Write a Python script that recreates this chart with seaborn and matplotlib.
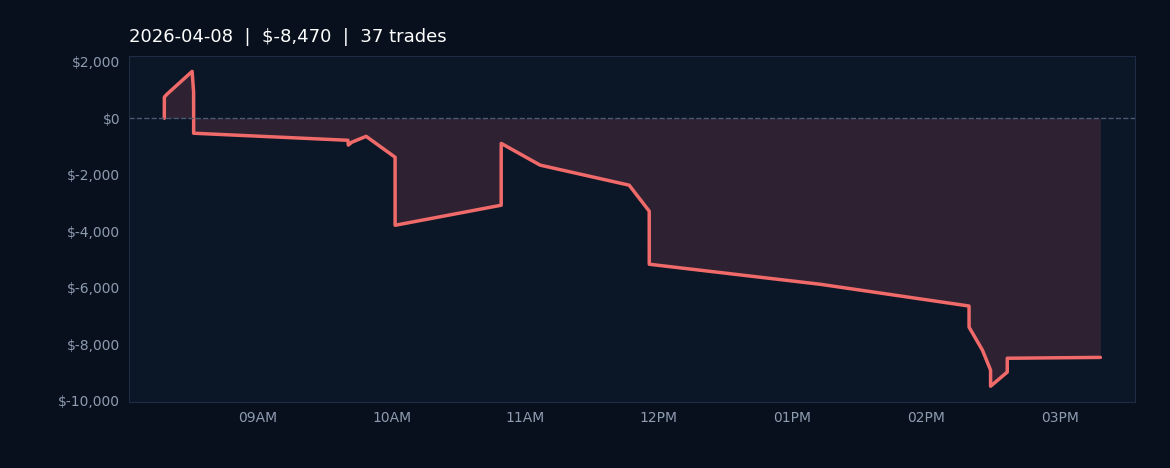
import pandas as pd
import seaborn as sns
import matplotlib
matplotlib.use('Agg')
import matplotlib.pyplot as plt
import matplotlib.dates as mdates
from matplotlib.ticker import FuncFormatter

# ========================================== DATA ==========================================

DAY = '2026-04-08'
times = ['08:17:50', '08:17:51', '08:19:00', '08:30:20', '08:31:00', '08:31:01',
         '09:40:20', '09:40:30', '09:42:00', '09:48:30', '10:01:30', '10:01:31',
         '10:49:10', '10:49:11', '11:06:40', '11:46:40', '11:55:40', '11:55:41',
         '13:12:30', '14:19:20', '14:19:21', '14:25:20', '14:29:00', '14:29:01',
         '14:36:30', '14:36:31', '15:18:20']
pnl = [0, 750, 850, 1660, 920, -530,
       -780, -950, -850, -640, -1380, -3790,
       -3080, -890, -1660, -2370, -3290, -5170,
       -5880, -6650, -7400, -8210, -8920, -9490,
       -8990, -8500, -8470]
tick_hours = ['09:00', '10:00', '11:00', '12:00', '13:00', '14:00', '15:00']

df = pd.DataFrame({'time': pd.to_datetime([f'{DAY} {t}' for t in times]), 'pnl': pnl})

# ========================================== PLOT ==========================================

BG = '#07101c'
PANEL = '#0b1627'
LINE = '#f06a6a'
TXT = '#8e9bb0'

sns.set_style('dark')
fig = plt.figure(figsize=(11.7, 4.68), dpi=100, facecolor=BG)
ax = fig.add_axes([0.1103, 0.141, 0.86, 0.739])
ax.set_facecolor(PANEL)

ax.fill_between(df['time'], df['pnl'], 0, color='#2e2232', linewidth=0)
sns.lineplot(data=df, x='time', y='pnl', ax=ax, color=LINE, linewidth=2.5, estimator=None, sort=False)
ax.axhline(0, color='#4a5a70', linestyle='--', linewidth=1)

ax.set_xlim(pd.Timestamp(f'{DAY} 08:02'), pd.Timestamp(f'{DAY} 15:34'))
ax.set_ylim(-10050, 2200)
ax.set_xticks(pd.to_datetime([f'{DAY} {h}' for h in tick_hours]))
ax.xaxis.set_major_formatter(mdates.DateFormatter('%I%p'))
ax.set_yticks(range(-10000, 2001, 2000))
ax.yaxis.set_major_formatter(FuncFormatter(lambda v, _: f'${v:,.0f}' if v >= 0 else f'$-{abs(v):,.0f}'))
ax.tick_params(colors=TXT, labelsize=10, length=3, color='#2a3a52')
ax.set_xlabel('')
ax.set_ylabel('')
ax.grid(False)
for s in ax.spines.values():
    s.set_color('#1e2d45')
    s.set_visible(True)

total = pnl[-1]
ax.set_title(f'{DAY}  |  $-{abs(total):,}  |  37 trades', loc='left', color='white', fontsize=13, pad=10)

fig.savefig('out.png', facecolor=BG)
